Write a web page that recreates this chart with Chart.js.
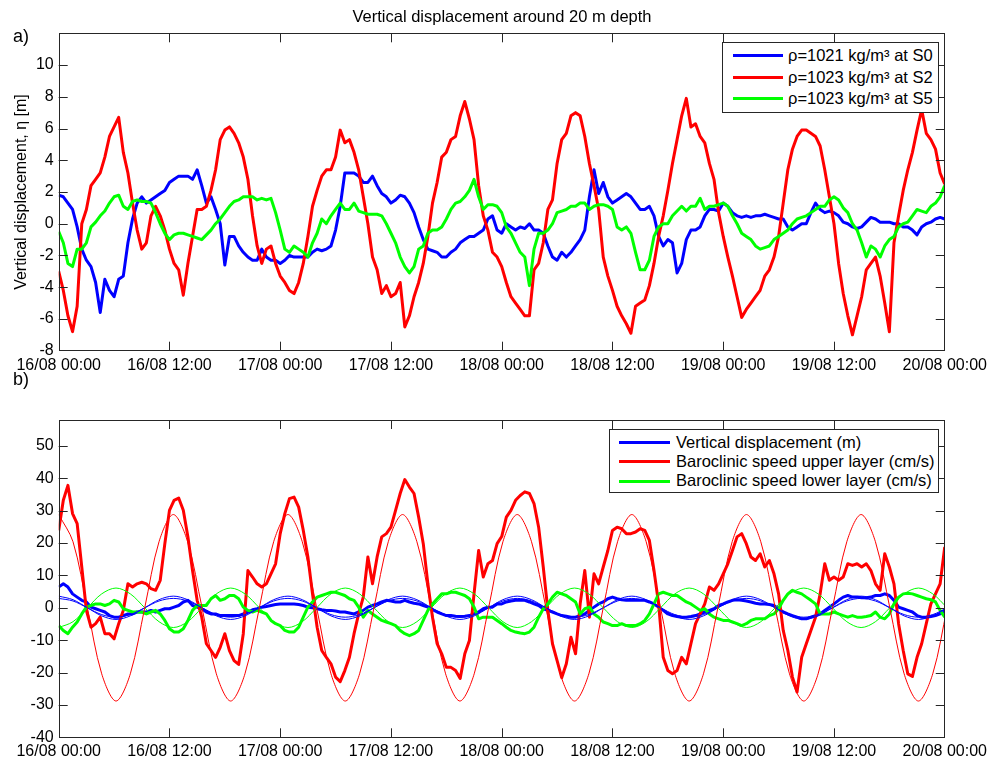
<!DOCTYPE html>
<html>
<head>
<meta charset="utf-8">
<script src="https://cdn.jsdelivr.net/npm/chart.js@4.4.1/dist/chart.umd.min.js"></script>
<style>
  body { margin: 0; background: #fff; font-family: 'Liberation Sans', Arial, sans-serif; }
  #page { position: relative; width: 992px; height: 762px; overflow: hidden; background: #fff; }
  canvas { position: absolute; left: 0; }
  .txt { position: absolute; color: #000; white-space: nowrap; line-height: 1; }
  .legend { position: absolute; background: #fff; border: 1px solid #262626; box-sizing: border-box; }
  .legend .sw { position: absolute; height: 3px; }
  .legend .lab { position: absolute; font-size: 16.5px; line-height: 20px; white-space: nowrap; color: #000; }
</style>
</head>
<body>
<div id="page">
  <canvas id="chartA" width="992" height="390" style="top:0"></canvas>
  <canvas id="chartB" width="992" height="372" style="top:390px"></canvas>

  <div class="txt" style="left:502px; top:8px; transform:translateX(-50%); font-size:16.5px;">Vertical displacement around 20 m depth</div>
  <div class="txt" style="left:13px; top:27px; font-size:18px;">a)</div>
  <div class="txt" style="left:13px; top:370px; font-size:18px;">b)</div>
  <div class="txt" style="left:21px; top:192px; transform:translate(-50%,-50%) rotate(-90deg); font-size:16px;">Vertical displacement, η [m]</div>

  <div class="legend" style="left:722px; top:42px; width:217px; height:71px;">
    <div class="sw" style="left:10px; top:11px; width:50px; background:#0000ff"></div>
    <div class="lab" style="left:65px; top:2px;">ρ=1021 kg/m³ at S0</div>
    <div class="sw" style="left:10px; top:33px; width:50px; background:#ff0000"></div>
    <div class="lab" style="left:65px; top:24px;">ρ=1023 kg/m³ at S2</div>
    <div class="sw" style="left:10px; top:54px; width:50px; background:#00ff00"></div>
    <div class="lab" style="left:65px; top:45px;">ρ=1023 kg/m³ at S5</div>
  </div>

  <div class="legend" style="left:609px; top:429px; width:330px; height:64px;">
    <div class="sw" style="left:9px; top:11px; width:51px; background:#0000ff"></div>
    <div class="lab" style="left:66px; top:2px;">Vertical displacement (m)</div>
    <div class="sw" style="left:9px; top:30px; width:51px; background:#ff0000"></div>
    <div class="lab" style="left:66px; top:21px;">Baroclinic speed upper layer (cm/s)</div>
    <div class="sw" style="left:9px; top:50px; width:51px; background:#00ff00"></div>
    <div class="lab" style="left:66px; top:40px;">Baroclinic speed lower layer (cm/s)</div>
  </div>
</div>

<script>
// x axis: hours since 16/08 00:00, one value every half hour
const xTickLabels = ['16/08 00:00', '16/08 12:00', '17/08 00:00', '17/08 12:00', '18/08 00:00',
                     '18/08 12:00', '19/08 00:00', '19/08 12:00', '20/08 00:00'];
const hours = [];
for (let i = 0; i <= 192; i++) hours.push(i / 2);

// panel a) vertical displacement (m)
const blueA = [
  1.8, 1.7, 1.3, 0.9, -0.2, -1.6, -2.3, -2.7, -3.7, -5.6, -3.5, -4.2, -4.6, -3.5, -3.3, -1.2, 0.3, 1.3, 1.7, 1.3,
  1.5, 1.7, 1.9, 2.1, 2.6, 2.8, 3.0, 3.0, 3.0, 2.8, 3.4, 2.4, 1.3, 1.7, 0.9, 0.0, -2.6, -0.8, -0.8, -1.4,
  -1.8, -2.1, -2.3, -2.3, -1.6, -2.1, -2.3, -2.3, -2.5, -2.3, -2.0, -2.1, -2.1, -2.1, -2.1, -1.8, -1.6, -1.7, -1.6, -1.4,
  -0.4, 1.1, 3.2, 3.2, 3.2, 3.0, 2.6, 2.6, 3.0, 2.4, 1.9, 1.7, 1.3, 1.5, 1.8, 1.7, 1.3, 0.7, -0.2, -1.0,
  -1.6, -1.7, -1.8, -2.1, -2.1, -1.8, -1.6, -1.2, -1.0, -0.8, -0.8, -0.6, -0.4, 0.3, 0.5, -0.4, -0.6, 0.0, -0.2, -0.4,
  -0.2, -0.3, 0.0, -0.4, -0.4, -0.6, -1.4, -2.1, -2.3, -1.8, -2.1, -1.8, -1.4, -1.0, -0.4, 1.7, 3.4, 1.9, 2.6, 1.7,
  1.3, 1.5, 1.7, 1.9, 1.7, 1.3, 0.9, 0.9, 1.1, 0.5, -0.8, -1.4, -1.0, -1.2, -3.1, -2.5, -1.0, -0.4, -0.4, -0.2,
  0.5, 0.9, 0.9, 0.8, 1.3, 1.1, 0.7, 0.5, 0.4, 0.5, 0.4, 0.5, 0.5, 0.6, 0.5, 0.4, 0.3, 0.3, -0.2, -0.4,
  -0.2, 0.0, 0.0, 0.7, 1.3, 0.9, 0.7, 0.8, 0.7, 0.5, 0.1, 0.0, -0.2, -0.3, -0.2, 0.1, 0.4, 0.3, 0.1, 0.1,
  0.1, 0.0, 0.0, -0.2, -0.2, -0.4, -0.7, -0.2, 0.0, 0.1, 0.3, 0.4, 0.3
];
const redA = [
  -3.0, -4.2, -5.8, -6.8, -5.2, 0.0, 0.9, 2.4, 2.8, 3.2, 4.2, 5.5, 6.1, 6.7, 4.5, 3.2, 1.3, -0.4, -1.6, -1.2,
  0.5, 1.1, 0.5, -0.4, -1.6, -2.5, -2.9, -4.5, -2.5, -0.8, 0.9, 0.9, 1.1, 2.1, 3.4, 5.3, 5.9, 6.1, 5.7, 5.1,
  4.2, 2.8, 0.5, -1.4, -2.5, -1.6, -1.4, -2.5, -3.3, -3.7, -4.2, -4.4, -3.7, -2.5, -0.8, 1.1, 2.1, 3.0, 3.4, 3.4,
  4.2, 5.9, 5.1, 5.3, 4.5, 3.4, 1.7, 0.0, -2.1, -2.9, -4.4, -3.9, -4.6, -4.4, -3.7, -6.5, -5.8, -4.6, -3.7, -2.5,
  -0.8, 1.3, 2.6, 4.2, 4.5, 5.3, 5.5, 6.8, 7.7, 6.6, 5.3, 2.4, 0.5, -0.4, -1.8, -2.1, -2.7, -3.7, -4.6, -5.0,
  -5.4, -5.8, -5.8, -2.9, -2.5, -1.2, 0.9, 1.5, 3.8, 5.3, 5.7, 6.8, 7.0, 6.8, 5.5, 3.8, 2.4, 0.9, -2.1, -3.3,
  -4.2, -5.2, -5.8, -6.3, -6.9, -5.2, -5.0, -4.8, -3.9, -2.5, -0.8, 0.5, 2.1, 3.8, 5.3, 6.8, 7.9, 6.1, 6.3, 5.5,
  5.1, 3.8, 2.8, 0.7, -0.8, -2.1, -3.3, -4.6, -5.9, -5.4, -5.0, -4.6, -4.2, -3.3, -2.9, -2.1, -0.8, 1.3, 3.4, 4.7,
  5.5, 5.9, 5.9, 5.7, 5.5, 4.9, 3.4, 1.7, 0.0, -2.5, -4.4, -5.8, -7.0, -5.8, -4.6, -2.9, -2.5, -2.1, -3.3, -5.0,
  -6.8, -1.2, 0.5, 2.1, 3.4, 4.5, 5.9, 7.2, 5.7, 5.3, 4.7, 3.2, 2.5
];
const greenA = [
  -0.5, -1.2, -2.5, -2.7, -1.6, -1.6, -1.2, -0.2, 0.1, 0.5, 0.8, 1.3, 1.7, 1.8, 1.1, 0.9, 1.4, 1.5, 1.4, 1.4,
  1.3, 0.7, 0.0, -0.6, -1.0, -0.7, -0.6, -0.6, -0.7, -0.8, -0.9, -1.0, -0.7, -0.4, 0.0, 0.3, 0.7, 1.1, 1.4, 1.5,
  1.7, 1.7, 1.7, 1.5, 1.6, 1.5, 1.6, 0.7, -0.4, -1.6, -1.8, -1.4, -1.6, -1.8, -2.1, -1.2, -0.6, 0.3, 0.0, 0.5,
  0.9, 1.3, 0.9, 0.9, 1.3, 0.8, 0.7, 0.6, 0.6, 0.6, 0.5, 0.0, -0.6, -1.2, -2.1, -2.7, -3.1, -2.7, -1.6, -1.4,
  -0.6, -0.4, -0.4, -0.2, 0.3, 0.9, 1.3, 1.4, 1.7, 2.1, 2.8, 1.7, 0.9, 1.2, 1.2, 1.1, 0.7, -0.2, -0.6, -1.2,
  -1.8, -2.1, -3.9, -1.6, -0.6, -0.6, -0.4, 0.0, 0.7, 0.8, 0.9, 1.1, 1.1, 1.3, 1.3, 0.9, 1.1, 1.2, 1.2, 1.1,
  0.9, -0.2, -0.4, -0.2, -0.6, -1.8, -2.9, -2.9, -2.3, -0.8, -0.2, 0.0, 0.0, 0.5, 0.8, 1.1, 0.8, 1.1, 1.1, 1.6,
  0.9, 1.1, 1.1, 1.2, 1.3, 1.1, 0.5, 0.0, -0.6, -0.8, -1.0, -1.4, -1.6, -1.5, -1.4, -1.0, -0.8, -0.6, -0.4, 0.0,
  0.3, 0.4, 0.5, 0.7, 0.9, 1.1, 1.1, 1.5, 1.7, 1.5, 1.0, 0.7, 0.0, -0.4, -1.2, -2.1, -1.4, -1.6, -2.1, -1.4,
  -1.0, -0.8, -0.2, 0.0, 0.1, 0.5, 0.9, 0.8, 0.7, 1.1, 1.3, 1.7, 2.4
];

// panel b) displacement (m) and baroclinic speeds (cm/s)
const blueB = [
  6.4, 7.4, 6.4, 4.3, 3.3, 2.3, 1.8, 0.2, -0.3, -0.8, -1.3, -2.4, -2.9, -2.9, -2.4, -1.9, -1.9, -1.3, -1.3, -1.3,
  -0.8, -1.3, -0.8, -0.3, -0.3, 0.2, 0.7, 1.8, 2.3, 0.7, 0.2, -0.3, -1.3, -1.9, -1.9, -2.4, -2.4, -2.4, -2.4, -2.4,
  -1.9, -1.3, -0.6, -0.3, 0.2, 0.4, 0.7, 1.0, 1.2, 1.2, 1.2, 1.2, 1.0, 0.7, 0.2, 0.0, -0.3, -0.6, -0.8, -0.8,
  -1.0, -1.3, -1.3, -1.6, -1.9, -1.3, -0.8, 0.2, 0.7, 1.2, 1.8, 2.3, 2.1, 1.8, 1.8, 2.3, 1.8, 1.4, 1.2, 0.7,
  0.2, -0.6, -1.3, -1.9, -2.4, -2.4, -2.6, -2.7, -2.6, -2.4, -1.9, -1.3, -0.3, 0.2, 0.2, 1.2, 1.2, 1.8, 2.1, 2.3,
  2.3, 2.3, 1.8, 1.2, 0.7, -0.3, -0.8, -1.3, -1.9, -2.4, -2.6, -2.9, -2.9, -2.4, -1.9, -0.8, 0.2, 1.2, 1.8, 2.8,
  3.3, 2.8, 2.5, 2.3, 2.3, 2.3, 2.3, 2.3, 1.8, 1.2, 0.2, -0.8, -1.9, -2.4, -2.7, -2.9, -2.9, -2.7, -2.4, -1.9,
  -1.3, -0.8, -0.3, 0.7, 1.2, 1.8, 2.3, 2.5, 2.3, 2.1, 1.8, 1.4, 1.2, 1.2, 1.0, 0.7, -0.3, -1.3, -1.9, -2.4,
  -2.9, -3.4, -3.4, -2.9, -2.4, -1.9, -0.8, 0.2, 1.2, 2.3, 3.3, 3.8, 3.3, 3.3, 3.1, 3.1, 3.3, 3.8, 3.8, 4.3,
  3.8, 2.3, 0.2, -0.3, -0.8, -1.3, -2.4, -2.9, -2.9, -2.7, -2.4, -1.9, -0.8
];
const redB = [
  23.9, 33.2, 37.8, 29.1, 26.0, 12.6, -0.8, -6.0, -4.9, -2.9, -8.0, -8.0, -9.6, -4.9, -0.8, 7.4, 6.4, 7.4, 7.9, 7.4,
  5.9, 5.4, 8.5, 19.8, 30.1, 33.2, 33.9, 30.1, 21.9, 11.5, 2.3, -2.9, -11.1, -13.2, -15.3, -12.2, -8.0, -13.2, -16.3, -17.5,
  -8.0, 11.5, 9.5, 7.4, 6.4, 7.4, 10.5, 13.6, 22.9, 29.1, 33.7, 34.2, 31.1, 23.9, 15.7, 4.3, -6.0, -13.2, -15.3, -17.3,
  -21.4, -22.8, -19.4, -15.3, -8.0, -1.9, 3.3, 15.7, 7.4, 15.7, 21.9, 22.9, 24.9, 30.1, 35.3, 39.6, 37.3, 35.3, 28.0, 19.8,
  7.4, -2.9, -11.1, -14.2, -18.4, -18.4, -19.4, -21.8, -14.2, -10.1, 4.3, 17.7, 9.5, 13.6, 14.6, 19.8, 22.0, 28.0, 30.1, 33.2,
  34.7, 35.8, 35.3, 32.2, 24.9, 12.6, -0.8, -11.1, -16.3, -21.6, -17.3, -9.1, -14.2, 1.2, 11.5, -2.9, 10.5, 7.4, 12.6, 17.7,
  23.9, 24.9, 24.4, 22.9, 22.9, 23.4, 24.4, 23.9, 20.8, 11.5, 1.2, -15.3, -19.4, -20.4, -19.4, -15.3, -17.3, -11.1, -4.9, -1.9,
  1.2, 6.4, 5.4, 7.4, 10.5, 13.6, 17.7, 21.9, 22.9, 19.8, 15.7, 14.6, 16.7, 12.6, 14.6, 10.5, 4.3, -7.0, -13.2, -21.4,
  -26.0, -15.3, -11.1, -7.0, -2.9, 4.3, 13.6, 8.5, 9.5, 8.5, 9.5, 13.6, 13.1, 13.6, 12.6, 13.6, 11.5, 7.4, 5.4, 16.7,
  12.6, 7.4, -4.9, -13.2, -20.4, -21.2, -15.3, -11.1, -4.9, 1.2, 4.3, 7.4, 18.8
];
const greenB = [
  -5.5, -7.0, -8.0, -6.0, -4.4, -1.9, 0.2, 0.7, 1.2, 1.2, 0.7, 1.2, 2.3, 1.8, -0.3, -0.8, -1.3, -1.3, -1.3, -1.9,
  -1.3, -0.8, -1.9, -3.9, -6.5, -7.5, -7.5, -6.5, -3.9, -0.8, 0.7, 0.7, 0.7, 2.8, 3.8, 2.3, 2.8, 3.8, 3.8, 2.8,
  0.2, -0.8, -1.3, -0.8, -1.3, -1.9, -3.9, -4.9, -5.5, -7.0, -7.5, -7.5, -6.0, -2.9, 0.2, 1.8, 3.3, 3.8, 4.3, 4.8,
  4.8, 4.3, 3.8, 2.8, 2.3, 0.2, -2.9, -0.8, -1.9, -2.9, -3.9, -4.4, -4.9, -5.5, -7.0, -8.0, -8.6, -8.0, -7.0, -3.9,
  -0.8, 1.2, 2.8, 4.3, 4.3, 4.8, 4.8, 4.3, 3.8, 2.8, 0.2, -3.4, -2.9, -2.9, -2.9, -3.9, -4.9, -6.0, -7.0, -7.5,
  -7.8, -8.0, -7.5, -6.0, -2.9, -0.3, 1.2, 3.3, 4.8, 4.3, 3.8, 2.8, 1.8, -1.9, -0.3, 0.2, -1.9, -2.9, -4.4, -4.9,
  -5.5, -5.5, -4.9, -5.5, -5.5, -5.5, -4.9, -3.9, -1.9, 1.2, 4.3, 4.8, 4.3, 3.8, 3.8, 2.8, 1.8, 1.2, 0.2, -0.8,
  -0.3, -1.9, -2.9, -3.4, -3.9, -3.9, -4.4, -4.9, -5.5, -4.9, -3.9, -3.4, -3.4, -3.4, -2.4, -1.9, -0.3, 2.3, 4.3, 5.4,
  4.8, 4.3, 3.3, 2.3, 1.2, -1.9, -1.9, -1.9, -1.3, -1.9, -2.4, -2.9, -2.4, -2.9, -2.9, -2.7, -2.4, -1.3, -2.9, -3.4,
  -1.9, 1.2, 3.3, 4.3, 4.5, 4.3, 3.8, 3.3, 2.8, 2.5, 1.8, -0.8, -2.9
];

// thin tidal fits in panel b, read at eighths of the 12.42 h period
const tideHours = [
  0, 1.55, 3.11, 4.66, 6.21, 7.76, 9.32, 10.87,
  12.42, 13.97, 15.53, 17.08, 18.63, 20.18, 21.74, 23.29,
  24.84, 26.39, 27.95, 29.50, 31.05, 32.60, 34.16, 35.71,
  37.26, 38.81, 40.37, 41.92, 43.47, 45.02, 46.58, 48.13,
  49.68, 51.23, 52.79, 54.34, 55.89, 57.44, 59.00, 60.55,
  62.10, 63.65, 65.21, 66.76, 68.31, 69.86, 71.42, 72.97,
  74.52, 76.07, 77.63, 79.18, 80.73, 82.28, 83.84, 85.39,
  86.94, 88.49, 90.05, 91.60, 93.15, 94.70, 96.26
];
const redTide = [
  28.8, 20.4, 0, -20.4, -28.8, -20.4, 0, 20.4,
  28.8, 20.4, 0, -20.4, -28.8, -20.4, 0, 20.4,
  28.8, 20.4, 0, -20.4, -28.8, -20.4, 0, 20.4,
  28.8, 20.4, 0, -20.4, -28.8, -20.4, 0, 20.4,
  28.8, 20.4, 0, -20.4, -28.8, -20.4, 0, 20.4,
  28.8, 20.4, 0, -20.4, -28.8, -20.4, 0, 20.4,
  28.8, 20.4, 0, -20.4, -28.8, -20.4, 0, 20.4,
  28.8, 20.4, 0, -20.4, -28.8, -20.4, 0
];
const blueTide1 = [
  3.6, 2.5, 0, -2.5, -3.6, -2.5, 0, 2.5,
  3.6, 2.5, 0, -2.5, -3.6, -2.5, 0, 2.5,
  3.6, 2.5, 0, -2.5, -3.6, -2.5, 0, 2.5,
  3.6, 2.5, 0, -2.5, -3.6, -2.5, 0, 2.5,
  3.6, 2.5, 0, -2.5, -3.6, -2.5, 0, 2.5,
  3.6, 2.5, 0, -2.5, -3.6, -2.5, 0, 2.5,
  3.6, 2.5, 0, -2.5, -3.6, -2.5, 0, 2.5,
  3.6, 2.5, 0, -2.5, -3.6, -2.5, 0
];
const blueTide2 = [
  2.9, 2.1, 0, -2.1, -2.9, -2.1, 0, 2.1,
  2.9, 2.1, 0, -2.1, -2.9, -2.1, 0, 2.1,
  2.9, 2.1, 0, -2.1, -2.9, -2.1, 0, 2.1,
  2.9, 2.1, 0, -2.1, -2.9, -2.1, 0, 2.1,
  2.9, 2.1, 0, -2.1, -2.9, -2.1, 0, 2.1,
  2.9, 2.1, 0, -2.1, -2.9, -2.1, 0, 2.1,
  2.9, 2.1, 0, -2.1, -2.9, -2.1, 0, 2.1,
  2.9, 2.1, 0, -2.1, -2.9, -2.1, 0
];
const greenTide = [
  -6.1, -4.3, 0, 4.3, 6.1, 4.3, 0, -4.3,
  -6.1, -4.3, 0, 4.3, 6.1, 4.3, 0, -4.3,
  -6.1, -4.3, 0, 4.3, 6.1, 4.3, 0, -4.3,
  -6.1, -4.3, 0, 4.3, 6.1, 4.3, 0, -4.3,
  -6.1, -4.3, 0, 4.3, 6.1, 4.3, 0, -4.3,
  -6.1, -4.3, 0, 4.3, 6.1, 4.3, 0, -4.3,
  -6.1, -4.3, 0, 4.3, 6.1, 4.3, 0, -4.3,
  -6.1, -4.3, 0, 4.3, 6.1, 4.3, 0
];

const BLUE = '#0000ff', RED = '#ff0000', GREEN = '#00ff00';
const FONT = "'Liberation Sans', Arial, sans-serif";

function pts(xs, ys) {
  return ys.map((y, i) => ({ x: xs[i], y: y }));
}

function thick(data, color, order) {
  return { data: pts(hours, data), borderColor: color, borderWidth: 3, order: order, tension: 0 };
}
function thin(data, color) {
  return { data: pts(tideHours, data), borderColor: color, borderWidth: 1, order: 0, tension: 0.33 };
}

// matlab style box with inward ticks on all four sides
const boxTicks = {
  id: 'boxTicks',
  afterDatasetsDraw(chart) {
    const { ctx, chartArea: a, scales } = chart;
    ctx.save();
    ctx.strokeStyle = '#262626';
    ctx.lineWidth = 1;
    ctx.beginPath();
    scales.x.ticks.forEach(t => {
      const px = Math.round(scales.x.getPixelForValue(t.value)) + 0.5;
      if (px < a.left + 2 || px > a.right - 2) return;
      ctx.moveTo(px, a.bottom); ctx.lineTo(px, a.bottom - 9);
      ctx.moveTo(px, a.top); ctx.lineTo(px, a.top + 9);
    });
    scales.y.ticks.forEach(t => {
      const py = Math.round(scales.y.getPixelForValue(t.value)) + 0.5;
      if (py < a.top + 2 || py > a.bottom - 2) return;
      ctx.moveTo(a.left, py); ctx.lineTo(a.left + 9, py);
      ctx.moveTo(a.right, py); ctx.lineTo(a.right - 9, py);
    });
    ctx.stroke();
    ctx.strokeRect(Math.round(a.left) + 0.5, Math.round(a.top) + 0.5,
                   Math.round(a.width) - 1, Math.round(a.height));
    ctx.restore();
  }
};

function makeChart(id, datasets, yMin, yMax, yStep, padTop, xAxisHeight, keepY) {
  return new Chart(document.getElementById(id), {
    type: 'line',
    data: { datasets: datasets },
    options: {
      responsive: false,
      animation: false,
      devicePixelRatio: 1,
      events: [],
      layout: { padding: { left: 0, right: 45.3, top: padTop, bottom: 0 } },
      elements: { point: { radius: 0 }, line: { borderJoinStyle: 'round' } },
      plugins: { legend: { display: false }, tooltip: { enabled: false } },
      scales: {
        x: {
          type: 'linear', min: 0, max: 96,
          grid: { display: false, drawTicks: false },
          border: { display: false },
          afterFit: s => { s.height = xAxisHeight; },
          ticks: {
            stepSize: 12, autoSkip: false, maxRotation: 0, padding: 5, color: '#000',
            font: { family: FONT, size: 16 },
            callback: v => xTickLabels[Math.round(v / 12)]
          }
        },
        y: {
          min: yMin, max: yMax,
          grid: { display: false, drawTicks: false },
          border: { display: false },
          afterFit: s => { s.width = 58.7; },
          ticks: {
            stepSize: yStep, padding: 5, color: '#000',
            font: { family: FONT, size: 16 },
            callback: v => keepY(v) ? v : ''
          }
        }
      }
    },
    plugins: [boxTicks]
  });
}

makeChart('chartA', [
  thick(greenA, GREEN, 1),
  thick(redA, RED, 2),
  thick(blueA, BLUE, 3)
], -8, 12, 2, 33.3, 390 - 350.7, v => v < 12);

makeChart('chartB', [
  thin(redTide, RED),
  thin(greenTide, GREEN),
  thin(blueTide1, BLUE),
  thin(blueTide2, BLUE),
  thick(greenB, GREEN, 1),
  thick(redB, RED, 2),
  thick(blueB, BLUE, 3)
], -40, 58, 10, 30, 372 - 347.3, v => v % 10 === 0 && v <= 50);
</script>
</body>
</html>
